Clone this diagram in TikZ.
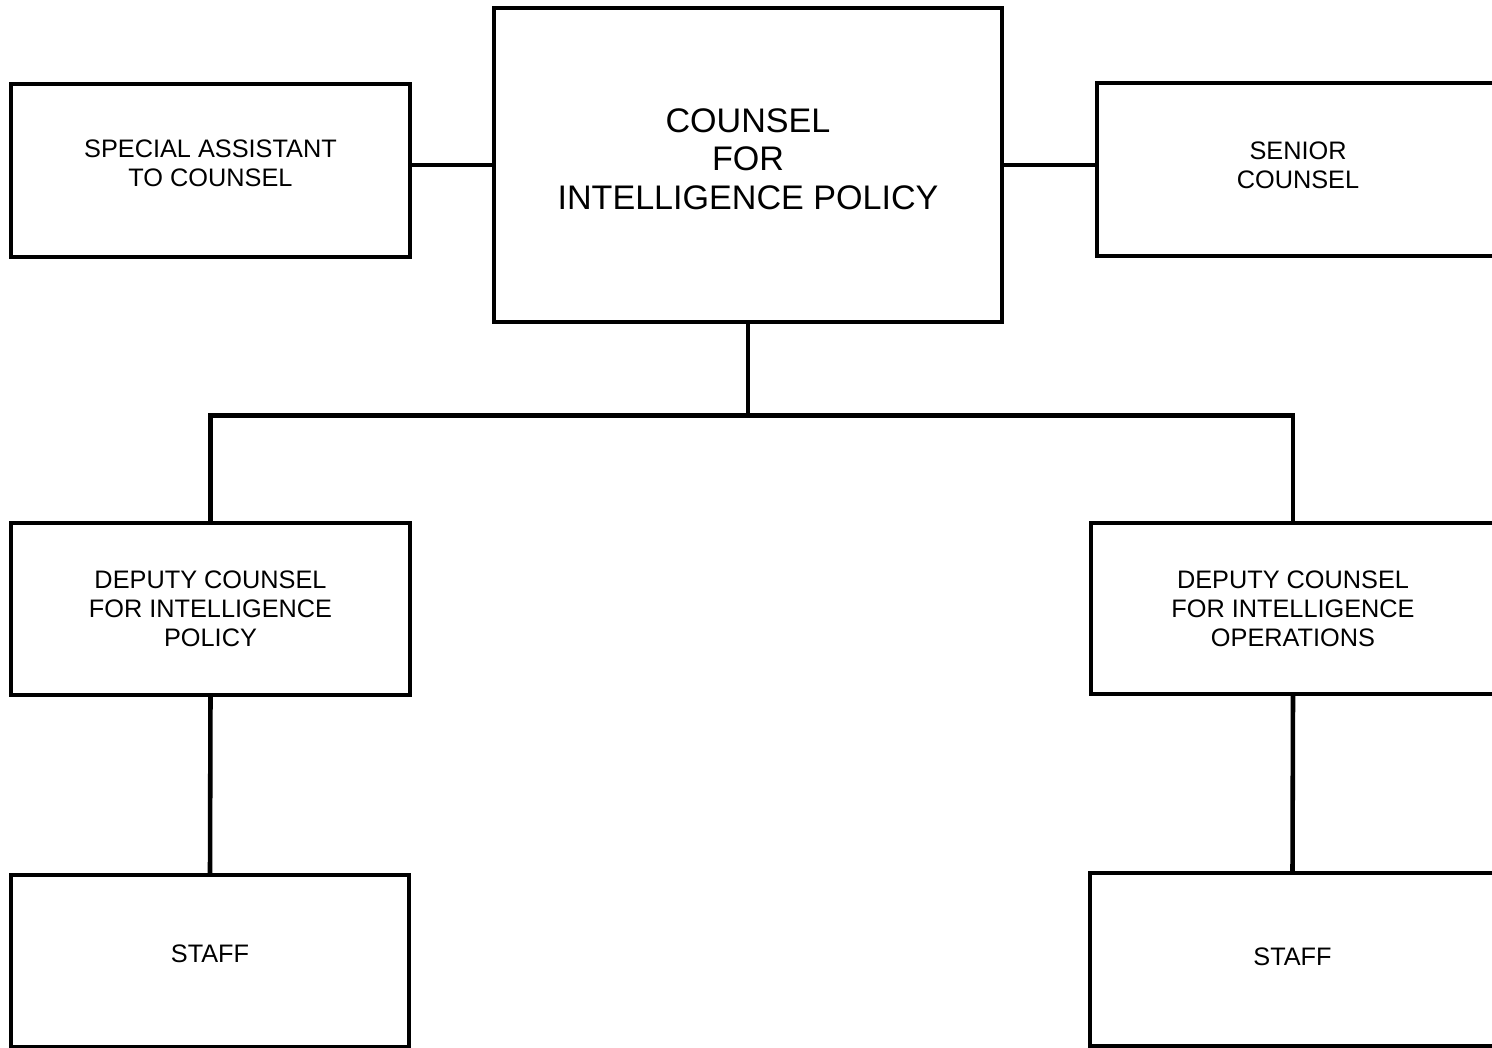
\documentclass[tikz,border=0pt]{standalone}
\usepackage{fontspec}
\setmainfont{Liberation Sans}
\usetikzlibrary{positioning}

\tikzset{
    box/.style={draw, line width=0.9pt, minimum width=3.99cm, minimum height=1.73cm,
                align=center, font=\fontsize{7.2}{8.2}\selectfont},
    bigbox/.style={box, minimum width=5.08cm, minimum height=3.14cm,
                font=\fontsize{9.7}{11}\selectfont},
    lift/.style={text depth=#1},
    link/.style={line width=1.3pt}
}

\begin{document}
\begin{tikzpicture}
    \useasboundingbox (0,0) rectangle (14.92,10.48);
    \clip (0,0) rectangle (14.92,10.48);

%kutije
    %gornji red
    \node[bigbox, lift=0.12cm] (counsel) at (7.48,8.83)
        {COUNSEL\\FOR\\INTELLIGENCE POLICY};
    \node[box, lift=0.14cm] (special) at (2.105,8.775)
        {SPECIAL ASSISTANT\\TO COUNSEL};
    \node[box, lift=0.08cm, minimum width=4.02cm] (senior) at (12.98,8.785)
        {SENIOR\\COUNSEL};

    %zamjenici
    \node[box, minimum height=1.72cm] (deppol) at (2.105,4.39)
        {DEPUTY COUNSEL\\FOR INTELLIGENCE\\POLICY};
    \node[box, minimum width=4.04cm, minimum height=1.71cm] (depops) at (12.93,4.395)
        {DEPUTY COUNSEL\\FOR INTELLIGENCE\\OPERATIONS};

    %osoblje
    \node[box, lift=0.14cm, minimum width=3.98cm, minimum height=1.72cm] (staffpol) at (2.10,0.87)
        {STAFF};
    \node[box, lift=0.06cm, minimum width=4.05cm] (staffops) at (12.925,0.885)
        {STAFF};

%veze
    \draw[link] (counsel.west) -- (special.east |- counsel.west);
    \draw[link] (counsel.east) -- (senior.west |- counsel.east);

    \draw[link] (counsel.south) -- ++(0,-0.92) coordinate (fork);
    \draw[link] (deppol.north) |- (fork) -| (depops.north);

    \draw[link] (deppol.south) -- (staffpol.north);
    \draw[link] (depops.south) -- (staffops.north);
\end{tikzpicture}
\end{document}
